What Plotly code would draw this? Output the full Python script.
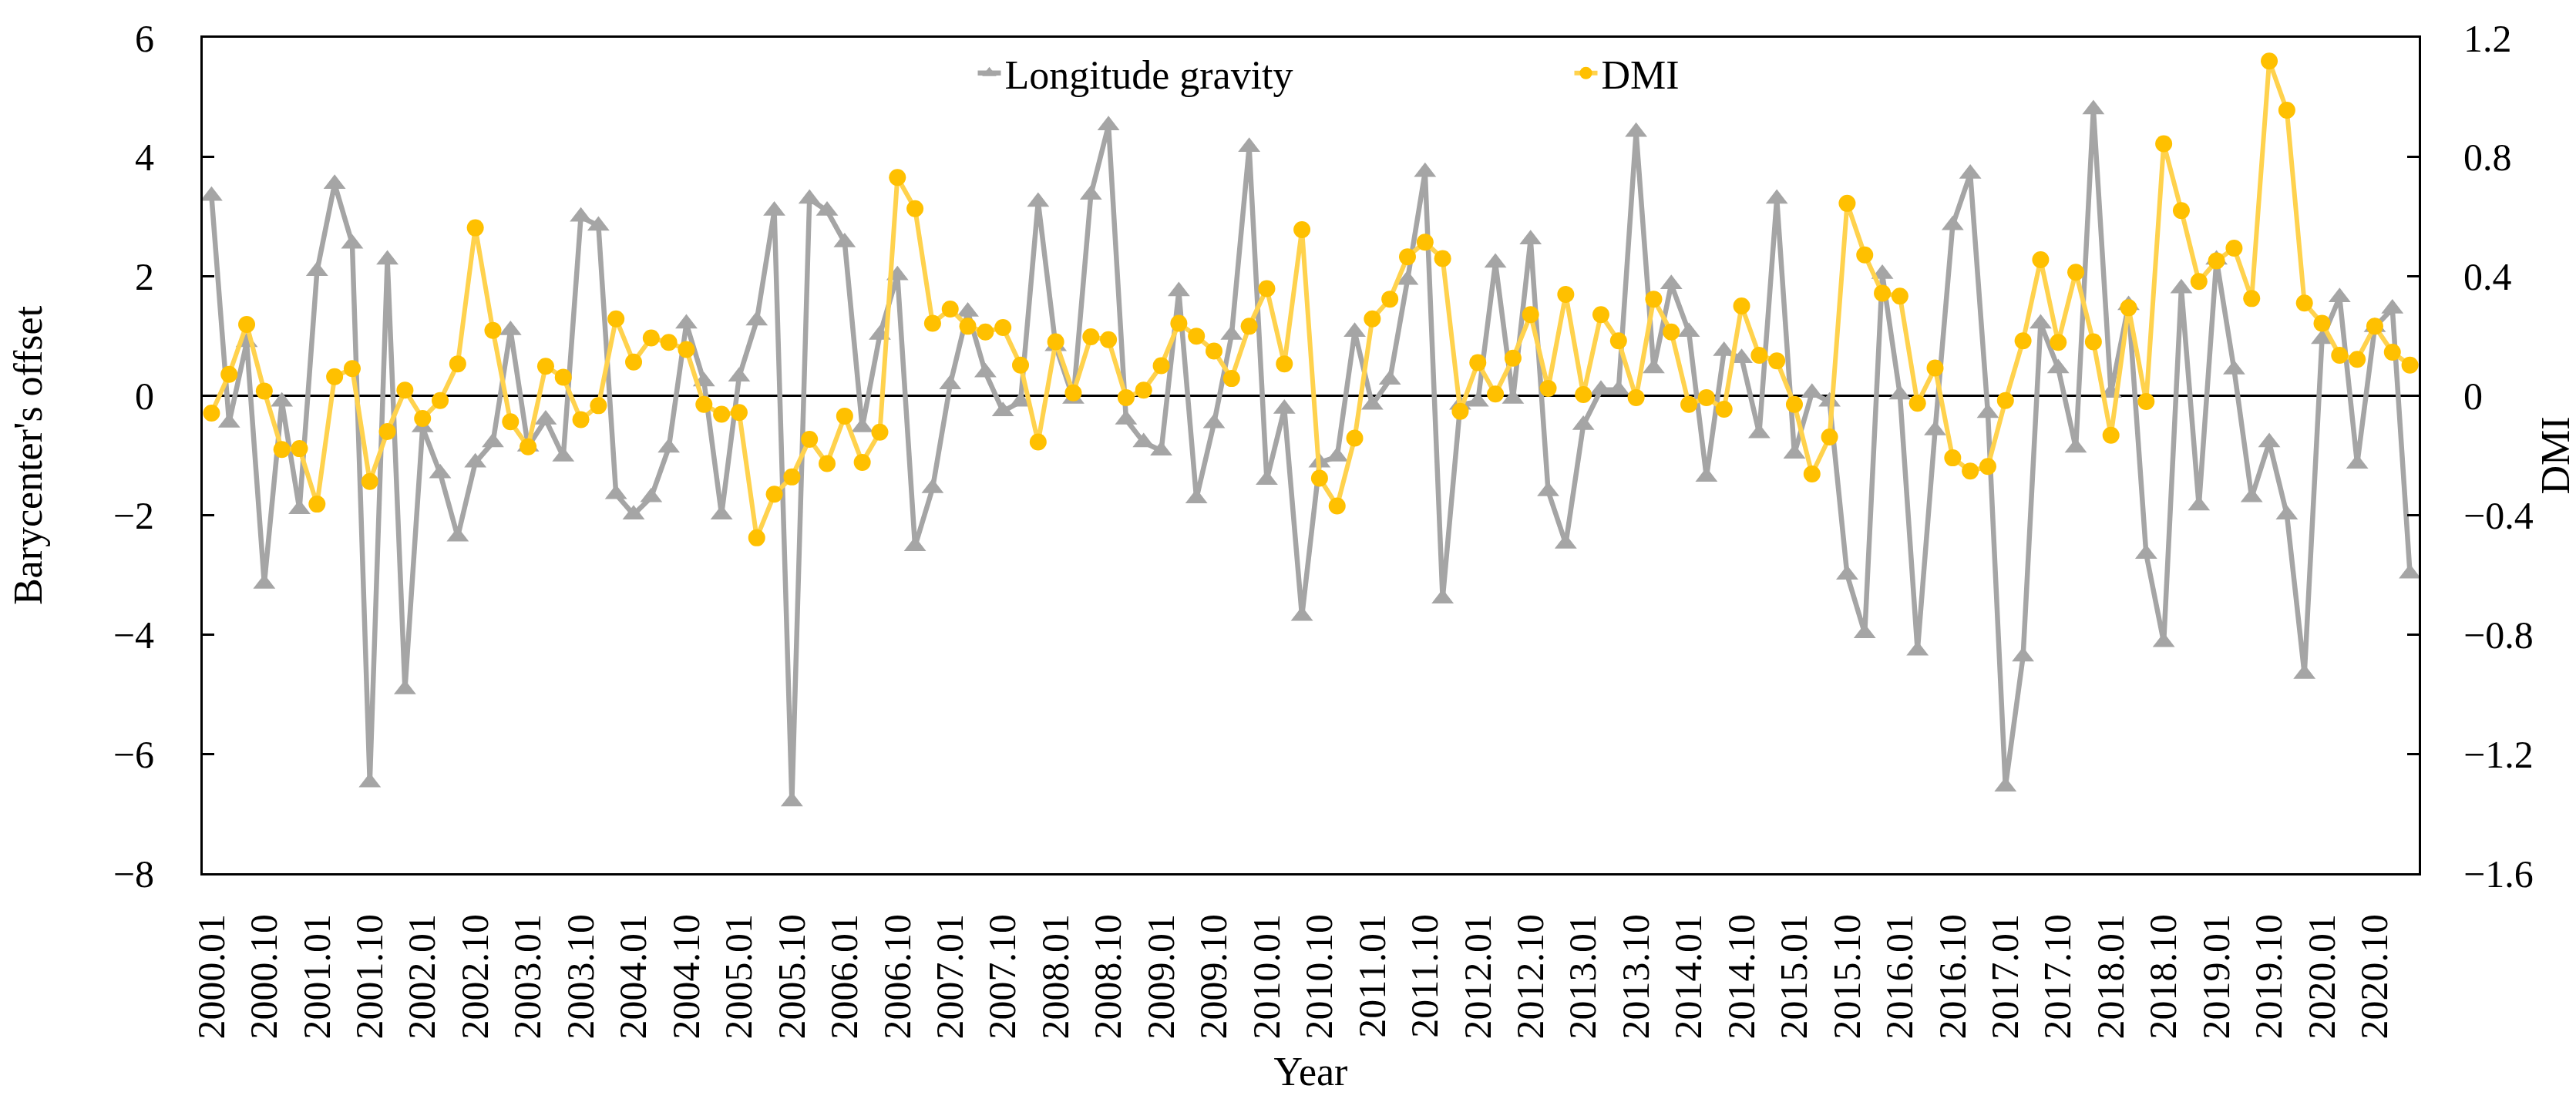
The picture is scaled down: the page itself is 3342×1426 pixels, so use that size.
import plotly.graph_objects as go

# ---- data ----
gravity = [
    3.35, -0.45, 0.9, -3.15, -0.1, -1.9, 2.09, 3.55, 2.55, -6.48,
    2.28, -4.92, -0.53, -1.3, -2.36, -1.12, -0.78, 1.1, -0.85, -0.4,
    -1.02, 3.0, 2.85, -1.65, -1.99, -1.7, -0.87, 1.21, 0.24, -1.99,
    0.32, 1.26, 3.1, -6.8, 3.3, 3.1, 2.57, -0.53, 1.02, 2.02,
    -2.52, -1.55, 0.19, 1.41, 0.39, -0.26, -0.1, 3.25, 0.83, -0.05,
    3.37, 4.53, -0.4, -0.78, -0.92, 1.75, -1.72, -0.46, 1.02, 4.17,
    -1.41, -0.22, -3.69, -1.12, -1.02, 1.07, -0.15, 0.27, 1.94, 3.75,
    -3.4, -0.15, -0.1, 2.23, -0.05, 2.62, -1.6, -2.48, -0.49, 0.1,
    0.1, 4.42, 0.46, 1.87, 1.07, -1.36, 0.75, 0.63, -0.63, 3.3,
    -0.97, 0.05, -0.1, -3.0, -3.98, 2.04, 0.02, -4.27, -0.58, 2.86,
    3.72, -0.29, -6.55, -4.37, 1.21, 0.46, -0.87, 4.8, 0.05, 1.52,
    -2.65, -4.13, 1.8, -1.84, 2.28, 0.44, -1.7, -0.78, -1.99, -4.66,
    0.95, 1.65, -1.14, 1.15, 1.46, -2.98,
]

dmi = [
    -0.058, 0.072, 0.239, 0.016, -0.18, -0.177, -0.363, 0.064, 0.091, -0.287,
    -0.12, 0.019, -0.076, -0.016, 0.107, 0.563, 0.219, -0.087, -0.171, 0.099,
    0.062, -0.08, -0.033, 0.258, 0.113, 0.194, 0.179, 0.155, -0.029, -0.062,
    -0.056, -0.476, -0.33, -0.272, -0.146, -0.227, -0.068, -0.223, -0.122, 0.732,
    0.627, 0.243, 0.291, 0.233, 0.214, 0.229, 0.103, -0.155, 0.181, 0.01,
    0.198, 0.188, -0.006, 0.019, 0.101, 0.243, 0.2, 0.15, 0.058, 0.233,
    0.359, 0.107, 0.557, -0.276, -0.369, -0.142, 0.258, 0.324, 0.466, 0.515,
    0.46, -0.052, 0.111, 0.006, 0.126, 0.272, 0.025, 0.34, 0.004, 0.272,
    0.184, -0.006, 0.324, 0.214, -0.029, -0.006, -0.045, 0.301, 0.136, 0.117,
    -0.029, -0.262, -0.138, 0.645, 0.472, 0.344, 0.334, -0.025, 0.093, -0.208,
    -0.252, -0.237, -0.016, 0.184, 0.456, 0.179, 0.414, 0.181, -0.132, 0.295,
    -0.019, 0.845, 0.621, 0.383, 0.452, 0.495, 0.326, 1.122, 0.957, 0.311,
    0.243, 0.136, 0.122, 0.233, 0.146, 0.103,
]

years = list(range(2000, 2021))
tick_labels = [f"{y}.{m}" for y in years for m in ("01", "10")]

# sample index (one category per observation)
idx = list(range(len(gravity)))
tick_step = 3
tick_positions = idx[::tick_step][:len(tick_labels)]

FONT = "Liberation Serif, Times New Roman, serif"

fig = go.Figure()
fig.add_trace(go.Scatter(
    x=idx, y=gravity, name="Longitude gravity", mode="lines+markers",
    line=dict(color="#A5A5A5", width=6.5),
    marker=dict(symbol="triangle-up", size=25, color="#A5A5A5"),
))
fig.add_trace(go.Scatter(
    x=idx, y=dmi, name="DMI", mode="lines+markers", yaxis="y2",
    line=dict(color="#FFD24D", width=6),
    marker=dict(symbol="circle", size=22, color="#FFC000"),
))

fig.update_layout(
    width=3342, height=1426,
    margin=dict(l=208, r=212, t=41, b=301),
    paper_bgcolor="white", plot_bgcolor="white",
    font=dict(family=FONT, size=50, color="black"),
    showlegend=True,
    legend=dict(
        orientation="h", x=0.348, y=0.995, xanchor="left", yanchor="top",
        bgcolor="rgba(0,0,0,0)", font=dict(size=52),
        entrywidth=729, entrywidthmode="pixels",
    ),
    xaxis=dict(
        range=[-0.5, len(idx) - 0.5],
        tickmode="array", tickvals=tick_positions, ticktext=tick_labels,
        tickangle=-90, ticks="", showgrid=False, zeroline=False,
        showline=True, linecolor="black", linewidth=3, mirror=True,
        ticklabelstandoff=30,
        title=dict(text="Year", font=dict(size=52), standoff=25),
    ),
    yaxis=dict(
        range=[-8, 6], dtick=2, tick0=0,
        ticks="inside", ticklen=15, tickwidth=3, tickcolor="black",
        showgrid=False, zeroline=True, zerolinecolor="black", zerolinewidth=3,
        showline=True, linecolor="black", linewidth=3,
        ticklabelstandoff=50,
        title=dict(text="Barycenter's offset", font=dict(size=52), standoff=90),
    ),
    yaxis2=dict(
        range=[-1.6, 1.2], dtick=0.4, tick0=0, overlaying="y", side="right",
        ticks="inside", ticklen=15, tickwidth=3, tickcolor="black",
        showgrid=False, zeroline=False,
        showline=True, linecolor="black", linewidth=3,
        ticklabelstandoff=45,
        title=dict(text="DMI", font=dict(size=52), standoff=8),
    ),
)

fig.write_html("out.html")
